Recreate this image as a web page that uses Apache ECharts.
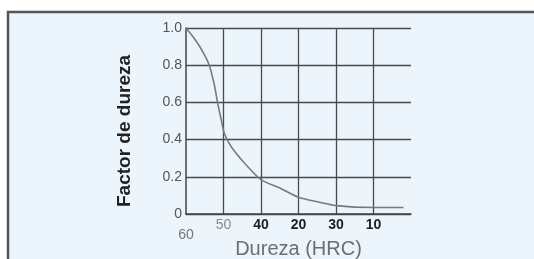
<!DOCTYPE html>
<html lang="es">
<head>
    <meta charset="UTF-8">
    <title>Factor de dureza</title>
    <style>
        html, body { margin: 0; padding: 0; background: #fff; }
    </style>
</head>
<body>
<div id="chart" style="width:534px;height:259px;"></div>
<script src="https://cdn.jsdelivr.net/npm/echarts@6/dist/echarts.min.js"></script>
<script type="text/javascript">
    // etiquetas del eje X (tal como aparecen en la figura)
    var hrcLabels = ['60', '50', '40', '20', '30', '10', ''];
    // posición de cada punto de la curva, en divisiones de la rejilla
    var hrcPos = [0, 0.27, 0.49, 0.62, 0.755, 0.84, 0.93, 1.02, 1.15, 1.33, 1.6, 2.0, 2.5, 3.0, 3.5, 4.0, 5.0, 5.8];
    // factor de dureza
    var factor = [1.0, 0.93, 0.857, 0.8, 0.695, 0.6, 0.516, 0.435, 0.38, 0.328, 0.265, 0.185, 0.14, 0.09, 0.066, 0.045, 0.035, 0.035];
    var yTicks = { 0: '0', 0.2: '0.2', 0.4: '0.4', 0.6: '0.6', 0.8: '0.8', 1: '1.0' };

    var chart = echarts.init(document.getElementById('chart'));
    var pts = [];
    for (var i = 0; i < hrcPos.length; i++) {
        pts.push([hrcPos[i], factor[i]]);
    }

    var option = {
        animation: false,
        textStyle: { fontFamily: 'Liberation Sans, Arial, sans-serif' },
        graphic: [{
            type: 'rect',
            z: -10,
            shape: { x: 8, y: 12, width: 600, height: 300 },
            style: { fill: '#ecf5fc', stroke: '#555', lineWidth: 2.5 }
        }],
        grid: { left: 186, top: 28, width: 225, height: 186, containLabel: false, outerBoundsMode: 'none' },
        xAxis: [
            {
                type: 'value', min: 0, max: 6, show: false
            },
            {
                type: 'category',
                data: hrcLabels,
                boundaryGap: false,
                position: 'bottom',
                axisLine: { lineStyle: { color: '#444', width: 1.5 } },
                axisTick: { show: false },
                splitLine: {
                    show: true,
                    interval: function (idx) { return idx > 0 && idx < hrcLabels.length - 1; },
                    lineStyle: { color: '#4a4a4a', width: 1.3 }
                },
                axisLabel: {
                    interval: 0,
                    margin: 4,
                    formatter: function (v, idx) {
                        if (idx === 0) return '{low|' + v + '}';
                        if (idx === 1) return '{gray|' + v + '}';
                        return '{dark|' + v + '}';
                    },
                    rich: {
                        low: { color: '#777', fontSize: 14, padding: [10, 0, 0, 0] },
                        gray: { color: '#888', fontSize: 14 },
                        dark: { color: '#1e1e1e', fontSize: 14, fontWeight: 'bold' }
                    }
                },
                name: 'Dureza (HRC)',
                nameLocation: 'middle',
                nameGap: 25,
                nameMoveOverlap: false,
                nameTextStyle: { color: '#6e6e6e', fontSize: 20 }
            }
        ],
        yAxis: {
            type: 'value',
            min: 0, max: 1, interval: 0.2,
            axisLine: { show: true, lineStyle: { color: '#444', width: 1.5 } },
            axisTick: { show: false },
            splitLine: { lineStyle: { color: '#4a4a4a', width: 1.3 } },
            axisLabel: {
                margin: 4,
                color: '#555',
                fontSize: 14,
                formatter: function (v) { return yTicks[v] !== undefined ? yTicks[v] : ''; }
            },
            name: 'Factor de dureza',
            nameLocation: 'middle',
            nameRotate: 90,
            nameGap: 52,
            nameTextStyle: { color: '#222', fontSize: 19, fontWeight: 'bold', padding: [0, 20, 0, 0] }
        },
        series: [{
            type: 'line',
            xAxisIndex: 0,
            smooth: 0.3,
            symbol: 'none',
            lineStyle: { color: '#7a7a7a', width: 1.6 },
            data: pts
        }]
    };
    chart.setOption(option);
</script>
</body>
</html>
